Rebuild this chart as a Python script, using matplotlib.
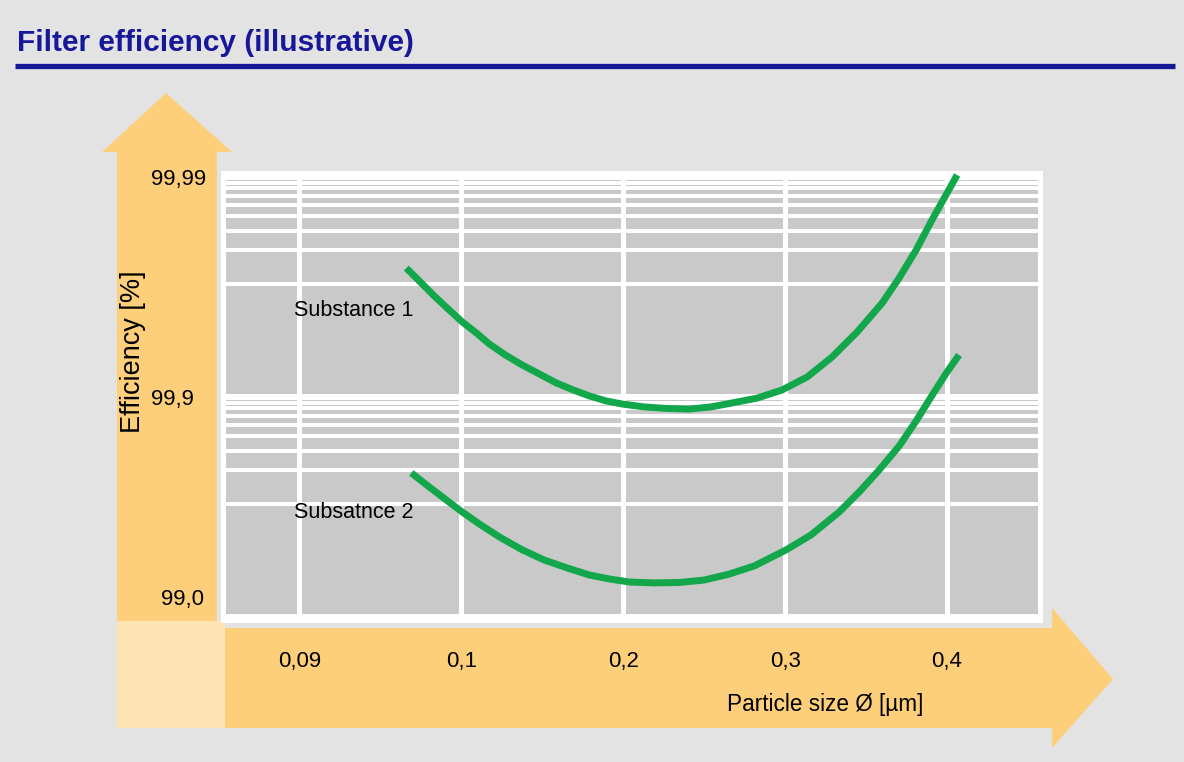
import matplotlib.pyplot as plt
from matplotlib.patches import Polygon, Rectangle
from matplotlib.transforms import ScaledTranslation

plt.rcParams['font.family'] = ['Liberation Sans', 'DejaVu Sans']

W, H = 1184, 762

# particle size categories, drawn evenly spaced
sizes = ['0,09', '0,1', '0,2', '0,3', '0,4']

# efficiency axis in decades of penetration: 99,0 -> 0, 99,9 -> 1, 99,99 -> 2
eff_labels = ['99,0', '99,9', '99,99']
eff_levels = [0, 1, 2]
# minor grid lines inside each decade
minor_frac = [0.513, 0.668, 0.753, 0.822, 0.873, 0.912, 0.948, 0.975]

# curves: x in category positions, y in decades
sub1_x = [0.660, 0.741, 0.833, 0.926, 1.006, 1.093, 1.173, 1.272, 1.377, 1.481,
          1.586, 1.691, 1.790, 1.895, 1.994, 2.130, 2.265, 2.407, 2.543, 2.673,
          2.827, 2.981, 3.136, 3.290, 3.444, 3.599, 3.704, 3.809, 3.907, 4.000, 4.062]
sub1_y = [1.586, 1.527, 1.459, 1.395, 1.341, 1.291, 1.241, 1.191, 1.145, 1.105,
          1.064, 1.032, 1.005, 0.982, 0.968, 0.955, 0.948, 0.945, 0.955, 0.973,
          0.995, 1.032, 1.091, 1.182, 1.295, 1.427, 1.541, 1.668, 1.805, 1.927, 2.009]
sub2_x = [0.691, 0.802, 0.907, 1.006, 1.111, 1.235, 1.377, 1.512, 1.654, 1.790,
          1.914, 2.037, 2.191, 2.346, 2.500, 2.654, 2.809, 3.006, 3.160, 3.333,
          3.457, 3.580, 3.704, 3.809, 3.901, 4.000, 4.074]
sub2_y = [0.655, 0.591, 0.532, 0.477, 0.423, 0.364, 0.305, 0.259, 0.223, 0.191,
          0.173, 0.159, 0.155, 0.157, 0.168, 0.195, 0.232, 0.305, 0.373, 0.477,
          0.568, 0.668, 0.777, 0.891, 1.000, 1.114, 1.191]

BG = '#e3e3e3'
ORANGE = '#fdcf7b'
CORNER = '#fde4b2'
CELL = '#c9c9c9'
GREEN = '#13a74b'
NAVY = '#17179a'

fig = plt.figure(figsize=(W / 100, H / 100), dpi=100, facecolor=BG)

# backdrop in pixel coordinates: title, rule and the two arrows
bg = fig.add_axes([0, 0, 1, 1], zorder=0)
bg.set_xlim(0, W)
bg.set_ylim(H, 0)
bg.axis('off')

bg.text(17, 43, 'Filter efficiency (illustrative)', fontsize=21.5, fontweight='bold',
        color=NAVY, ha='left', va='center')
bg.plot([15, 1175], [66, 66], color=NAVY, lw=3.8, solid_capstyle='butt')

# vertical arrow
bg.add_patch(Polygon([(117, 621), (117, 152), (102, 152), (166, 93), (232, 152),
                      (217, 152), (217, 621)], closed=True, fc=ORANGE, ec='none'))
# horizontal arrow
bg.add_patch(Polygon([(225, 628), (1052, 628), (1052, 608), (1113, 679), (1052, 748),
                      (1052, 728), (225, 728)], closed=True, fc=ORANGE, ec='none'))
bg.add_patch(Rectangle((117, 621), 108, 107, fc=CORNER, ec='none'))

bg.text(133, 352, 'Efficiency [%]', fontsize=19.5, rotation=90, ha='center', va='center')
bg.text(727, 704, 'Particle size Ø [µm]', fontsize=16.3, ha='left', va='center')

# chart area
left, right, top, bottom = 222.5, 1040, 172.5, 620
ax = fig.add_axes([left / W, 1 - bottom / H, (right - left) / W, (bottom - top) / H], zorder=1)
ax.set_facecolor(CELL)
ax.set_xlim(-0.475, 4.574)
ax.set_ylim(-(bottom - 617) / 220, 2 + (177 - top) / 220)

for s in ax.spines.values():
    s.set_color('white')
    s.set_linewidth(3.6)

for i in range(len(sizes)):
    ax.axvline(i, color='white', lw=3.6, zorder=1)
for lv in eff_levels:
    ax.axhline(lv, color='white', lw=4.3, zorder=1)
for d in eff_levels[:-1]:
    for f in minor_frac:
        ax.axhline(d + f, color='white', lw=2.9, zorder=1)

ax.plot(sub1_x, sub1_y, color=GREEN, lw=5, solid_joinstyle='round', solid_capstyle='butt', zorder=3)
ax.plot(sub2_x, sub2_y, color=GREEN, lw=5, solid_joinstyle='round', solid_capstyle='butt', zorder=3)

ax.text(-0.031, 1.395, 'Substance 1', fontsize=15.5, ha='left', va='center', zorder=4)
ax.text(-0.031, 0.477, 'Subsatnce 2', fontsize=15.5, ha='left', va='center', zorder=4)

ax.set_xticks(range(len(sizes)), sizes, fontsize=16)
ax.tick_params(axis='x', length=0, pad=22)
ax.set_yticks(eff_levels, eff_labels, fontsize=16)
ax.tick_params(axis='y', length=0, pad=71 * 0.72)
for lab in ax.get_yticklabels():
    lab.set_horizontalalignment('left')
# the bottom label sits a little above its line
low = ax.get_yticklabels()[0]
low.set_transform(low.get_transform() + ScaledTranslation(0.10, 0.20, fig.dpi_scale_trans))

fig.savefig('out.png', dpi=100, facecolor=BG)
